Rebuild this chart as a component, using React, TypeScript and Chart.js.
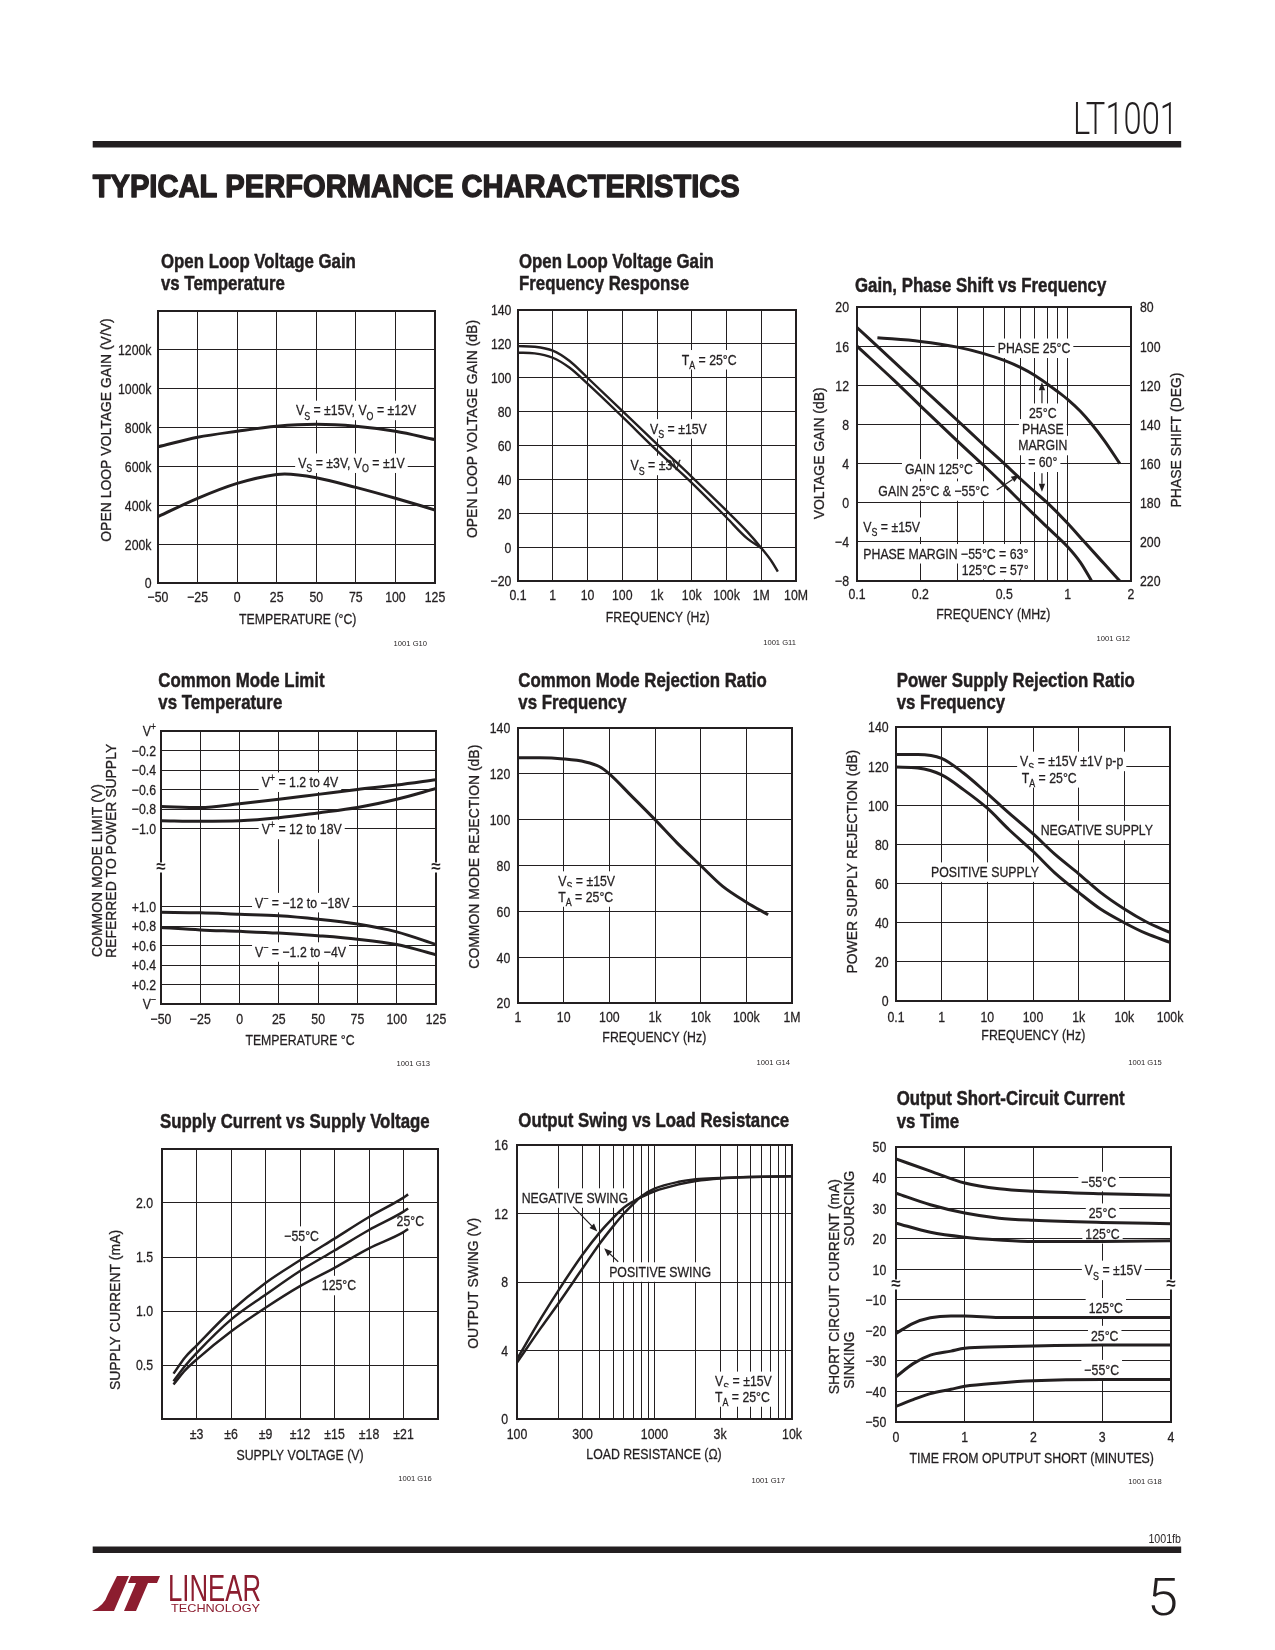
import React, { useEffect, useRef } from 'react';
import { Chart, registerables } from 'chart.js';

Chart.register(...registerables);

const INK = '#231f20';
const LOGO_RED = '#8c1d2f';
const SANS = '"Liberation Sans", Arimo, Arial, sans-serif';
const THIN = 'Roboto, "Open Sans", "Liberation Sans", sans-serif';
const SX = 0.82; // horizontal condensing to mimic a condensed grotesque

/* ---------------- G10: open loop gain vs temperature ---------------- */
const g10TempHi = [-50, -25, 0, 25, 50, 75, 100, 125];
const g10GainHi = [701, 750, 781, 807, 817, 807, 781, 738]; // k V/V, Vs=±15V
const g10TempLo = [-50, -25, 0, 25, 30, 50, 75, 100, 125];
const g10GainLo = [342, 436, 513, 559, 561, 542, 492, 436, 376]; // Vs=±3V
const g10XTicks = [-50, -25, 0, 25, 50, 75, 100, 125];
const g10XLabels = ['−50', '−25', '0', '25', '50', '75', '100', '125'];
const g10YTicks = [0, 200, 400, 600, 800, 1000, 1200, 1400];
const g10YLabels = ['0', '200k', '400k', '600k', '800k', '1000k', '1200k', ''];

/* ---------------- G11: open loop gain vs frequency ---------------- */
const g11FreqHi = [0.1, 0.3, 1, 3, 10, 100, 1e3, 1e4, 1e5, 4e5, 1e6, 2e6, 3e6];
const g11GainHi = [118.7, 118.3, 116, 110, 100, 80.5, 60.8, 41.5, 21.5, 9, -0.5, -8.5, -14.5];
const g11FreqLo = [0.1, 0.3, 1, 3, 10, 100, 1e3, 1e4, 1e5, 4e5, 1e6];
const g11GainLo = [114.8, 114.4, 111.8, 106, 96.5, 77, 57, 38, 17.5, 5, -0.5];
const g11XTicks = [0.1, 1, 10, 100, 1e3, 1e4, 1e5, 1e6, 1e7];
const g11XLabels = ['0.1', '1', '10', '100', '1k', '10k', '100k', '1M', '10M'];
const g11YTicks = [-20, 0, 20, 40, 60, 80, 100, 120, 140];
const g11YLabels = ['−20', '0', '20', '40', '60', '80', '100', '120', '140'];

/* ---------------- G12: gain, phase vs frequency ---------------- */
const g12FreqG25 = [0.1, 0.15, 0.2, 0.3, 0.4, 0.5, 0.6, 0.7, 0.8, 1.0, 1.2, 1.5, 1.77];
const g12Gain25 = [17.9, 14.4, 11.9, 8.4, 5.9, 4.0, 2.4, 1.1, 0.0, -2.1, -4.0, -6.3, -8];
const g12FreqG125 = [0.1, 0.15, 0.2, 0.3, 0.4, 0.5, 0.6, 0.7, 0.8, 1.0, 1.15, 1.3];
const g12Gain125 = [16, 12.5, 9.9, 6.3, 3.8, 1.8, 0.1, -1.3, -2.5, -4.5, -6.1, -8];
const g12FreqPh = [0.125, 0.2, 0.3, 0.4, 0.5, 0.6, 0.7, 0.8, 0.9, 1.0, 1.15, 1.3, 1.5, 1.77];
const g12Phase = [95.7, 97.6, 100.5, 103.8, 107.3, 111.0, 115.0, 119.3, 123.3, 127.2, 133.3, 139.8, 148.5, 160];
const g12XTicks = [0.1, 0.2, 0.3, 0.4, 0.5, 0.6, 0.7, 0.8, 0.9, 1, 2];
const g12XLabels = ['0.1', '0.2', '', '', '0.5', '', '', '', '', '1', '2'];
const g12YTicks = [-8, -4, 0, 4, 8, 12, 16, 20];
const g12YLabels = ['−8', '−4', '0', '4', '8', '12', '16', '20'];
const g12Y2Ticks = [80, 100, 120, 140, 160, 180, 200, 220];
const g12Y2Labels = ['80', '100', '120', '140', '160', '180', '200', '220'];

/* ---------------- G13: common mode limit vs temperature ---------------- */
const g13Temp = [-50, -25, 0, 25, 50, 75, 100, 125];
const g13Vp1 = [-0.775, -0.785, -0.745, -0.70, -0.65, -0.60, -0.555, -0.50]; // V+ = 1.2 to 4V
const g13Vp2 = [-0.92, -0.925, -0.92, -0.89, -0.84, -0.785, -0.70, -0.59]; // V+ = 12 to 18V
const g13Vn1 = [0.94, 0.935, 0.92, 0.905, 0.87, 0.82, 0.74, 0.61]; // V- = -12 to -18V
const g13Vn2 = [0.785, 0.76, 0.745, 0.727, 0.70, 0.665, 0.61, 0.505]; // V- = -1.2 to -4V
const g13YTicks = [0, 1, 2, 3, 4, 5, 6, 7, 8, 9, 10, 11, 12, 13, 14];
const g13YLabels = ['', '+0.2', '+0.4', '+0.6', '+0.8', '+1.0', '', '', '', '−1.0', '−0.8', '−0.6', '−0.4', '−0.2', ''];
const cmUpper = (v: number) => 14 + v / 0.2;
const cmLower = (v: number) => v / 0.2;

/* ---------------- G14: CMRR vs frequency ---------------- */
const g14Freq = [1, 3, 10, 30, 60, 100, 300, 1e3, 3e3, 1e4, 3e4, 1e5, 3e5];
const g14Cmrr = [127, 127, 126.5, 125.2, 123.2, 120, 110.5, 100, 90, 80, 71, 64, 58.5];
const g14XTicks = [1, 10, 100, 1e3, 1e4, 1e5, 1e6];
const g14XLabels = ['1', '10', '100', '1k', '10k', '100k', '1M'];
const g14YTicks = [20, 40, 60, 80, 100, 120, 140];
const g14YLabels = ['20', '40', '60', '80', '100', '120', '140'];

/* ---------------- G15: PSRR vs frequency ---------------- */
const g15Freq = [0.1, 0.3, 1, 3, 10, 30, 100, 300, 1e3, 3e3, 1e4, 3e4, 1e5];
const g15Neg = [126, 126, 124, 116.5, 106, 96, 85.5, 75, 65, 55.5, 47, 40.5, 35];
const g15Pos = [119.5, 119, 115.5, 108, 98.5, 87.5, 76.5, 65.5, 55.5, 47, 40, 34.5, 30];
const g15XTicks = [0.1, 1, 10, 100, 1e3, 1e4, 1e5];
const g15XLabels = ['0.1', '1', '10', '100', '1k', '10k', '100k'];
const g15YTicks = [0, 20, 40, 60, 80, 100, 120, 140];
const g15YLabels = ['0', '20', '40', '60', '80', '100', '120', '140'];

/* ---------------- G16: supply current vs supply voltage ---------------- */
const g16Volt = [1, 2, 3, 6, 9, 12, 15, 18, 21, 21.4];
const g16Im55 = [0.42, 0.57, 0.68, 1.0, 1.26, 1.47, 1.67, 1.87, 2.05, 2.08];
const g16I25 = [0.35, 0.49, 0.61, 0.92, 1.15, 1.37, 1.56, 1.75, 1.92, 1.95];
const g16I125 = [0.32, 0.45, 0.55, 0.81, 1.03, 1.23, 1.40, 1.58, 1.73, 1.76];
const g16XTicks = [0, 3, 6, 9, 12, 15, 18, 21, 24];
const g16XLabels = ['', '±3', '±6', '±9', '±12', '±15', '±18', '±21', ''];
const g16YTicks = [0, 0.5, 1, 1.5, 2, 2.5];
const g16YLabels = ['', '0.5', '1.0', '1.5', '2.0', ''];

/* ---------------- G17: output swing vs load ---------------- */
const g17Load = [100, 150, 200, 300, 400, 500, 600, 700, 800, 1000, 1500, 2000, 3000, 5000, 10000];
const g17Neg = [3.5, 5.9, 7.5, 9.6, 10.9, 11.75, 12.35, 12.7, 12.95, 13.3, 13.7, 13.9, 14.05, 14.13, 14.17];
const g17Pos = [3.3, 5.35, 6.75, 8.8, 10.25, 11.25, 12.0, 12.55, 13.0, 13.45, 13.85, 14.0, 14.07, 14.13, 14.17];
const g17XTicks = [100, 200, 300, 400, 500, 600, 700, 800, 900, 1000, 2000, 3000, 4000, 5000, 6000, 7000, 8000, 9000, 10000];
const g17XLabels = ['100', '', '300', '', '', '', '', '', '', '1000', '', '3k', '', '', '', '', '', '', '10k'];
const g17YTicks = [0, 4, 8, 12, 16];
const g17YLabels = ['0', '4', '8', '12', '16'];

/* ---------------- G18: short-circuit current vs time ---------------- */
const g18TimeSrc = [0, 0.5, 1, 1.5, 2, 3, 4];
const g18Src55 = [46.1, 42.1, 38.2, 36.3, 35.5, 34.7, 34.2];
const g18Src25 = [34.9, 31.1, 28.4, 26.7, 26.0, 25.3, 24.9];
const g18Src125 = [25.1, 22.1, 20.5, 19.6, 19.1, 19.1, 19.3];
const g18TimeSnk = [0, 0.25, 0.5, 0.8, 1, 1.5, 2, 3, 4];
const g18Snk125 = [-21, -17.7, -15.9, -15.3, -15.3, -15.8, -15.8, -15.8, -15.8];
const g18Snk25 = [-35.2, -30.9, -28.1, -26.8, -25.9, -25.4, -25.1, -24.8, -24.8];
const g18Snk55 = [-44.9, -42.7, -40.7, -39.3, -38.3, -37.2, -36.5, -36.1, -36.1];
const g18XTicks = [0, 1, 2, 3, 4];
const g18XLabels = ['0', '1', '2', '3', '4'];
const g18YTicks = [0, 1, 2, 3, 4, 5, 6, 7, 8, 9];
const g18YLabels = ['−50', '−40', '−30', '−20', '−10', '10', '20', '30', '40', '50'];
const scSource = (v: number) => 4 + v / 10;
const scSink = (v: number) => 5 + v / 10;

/* ---------------- types ---------------- */
type AxisSpec = { type: string; min: number; max: number; ticks: number[]; labels: string[]; pad: number; reverse?: boolean; hideGrid?: number[] };
type Series = { xs: number[]; ys: number[]; width: number; axis?: string };
type Note = { text: string; fx: number; fy: number; align?: string };
type Arrow = { fx1: number; fy1: number; fx2: number; fy2: number };
type YTitle = { text: string; x: number; y: number; start?: boolean };
type Spec = {
  box: number[]; plot: number[];
  x: AxisSpec; y: AxisSpec; y2?: AxisSpec;
  series: Series[];
  title: string[]; titleX: number; titleY: number[];
  yTitles: YTitle[]; xTitle: { text: string; x: number; y: number };
  code: { text: string; x: number; y: number };
  notes: Note[]; arrows?: Arrow[]; breakAt?: number;
  extraYLabels?: { text: string; v: number }[];
};

const lin = (min: number, max: number, ticks: number[], labels: string[], pad: number, extra: any = {}): AxisSpec => ({ type: 'linear', min, max, ticks, labels, pad, ...extra });
const lg = (min: number, max: number, ticks: number[], labels: string[], pad: number): AxisSpec => ({ type: 'logarithmic', min, max, ticks, labels, pad });

const specs: Spec[] = [
  {
    box: [80, 235, 385, 420], plot: [158, 311, 435, 583],
    x: lin(-50, 125, g10XTicks, g10XLabels, 13.7), y: lin(0, 1400, g10YTicks, g10YLabels, 6.5),
    series: [{ xs: g10TempHi, ys: g10GainHi, width: 3 }, { xs: g10TempLo, ys: g10GainLo, width: 3 }],
    title: ['Open Loop Voltage Gain', 'vs Temperature'], titleX: 161, titleY: [268.3, 290],
    yTitles: [{ text: 'OPEN LOOP VOLTAGE GAIN (V/V)', x: 105.7, y: 430 }],
    xTitle: { text: 'TEMPERATURE (°C)', x: 297.7, y: 618.3 },
    code: { text: '1001 G10', x: 427, y: 646 },
    notes: [
      { text: 'V_{S} = ±15V, V_{O} = ±12V', fx: 0.498, fy: 0.364 },
      { text: 'V_{S} = ±3V, V_{O} = ±1V', fx: 0.506, fy: 0.558 },
    ],
  },
  {
    box: [455, 235, 360, 420], plot: [518, 310, 796, 581],
    x: lg(0.1, 1e7, g11XTicks, g11XLabels, 13.3), y: lin(-20, 140, g11YTicks, g11YLabels, 6.6),
    series: [{ xs: g11FreqHi, ys: g11GainHi, width: 2.4 }, { xs: g11FreqLo, ys: g11GainLo, width: 2.4 }],
    title: ['Open Loop Voltage Gain', 'Frequency Response'], titleX: 519, titleY: [268.3, 290],
    yTitles: [{ text: 'OPEN LOOP VOLTAGE GAIN (dB)', x: 471.7, y: 429 }],
    xTitle: { text: 'FREQUENCY (Hz)', x: 657.7, y: 616.7 },
    code: { text: '1001 G11', x: 796, y: 644.5 },
    notes: [
      { text: 'T_{A} = 25°C', fx: 0.589, fy: 0.182 },
      { text: 'V_{S} = ±15V', fx: 0.475, fy: 0.437 },
      { text: 'V_{S} = ±3V', fx: 0.405, fy: 0.572 },
    ],
  },
  {
    box: [800, 235, 395, 420], plot: [857, 307, 1131, 581],
    x: lg(0.1, 2, g12XTicks, g12XLabels, 13), y: lin(-8, 20, g12YTicks, g12YLabels, 8),
    y2: lin(80, 220, g12Y2Ticks, g12Y2Labels, 9, { reverse: true }),
    series: [
      { xs: g12FreqG25, ys: g12Gain25, width: 3 },
      { xs: g12FreqG125, ys: g12Gain125, width: 3 },
      { xs: g12FreqPh, ys: g12Phase, width: 3, axis: 'y2' },
    ],
    title: ['Gain, Phase Shift vs Frequency'], titleX: 855, titleY: [291.7],
    yTitles: [{ text: 'VOLTAGE GAIN (dB)', x: 818.3, y: 453.3 }, { text: 'PHASE SHIFT (DEG)', x: 1176, y: 440 }],
    xTitle: { text: 'FREQUENCY (MHz)', x: 993.3, y: 613.3 },
    code: { text: '1001 G12', x: 1130, y: 640.5 },
    notes: [
      { text: 'PHASE 25°C', fx: 0.646, fy: 0.149, align: 'center' },
      { text: '25°C', fx: 0.678, fy: 0.386, align: 'center' },
      { text: 'PHASE', fx: 0.678, fy: 0.443, align: 'center' },
      { text: 'MARGIN', fx: 0.678, fy: 0.504, align: 'center' },
      { text: '= 60°', fx: 0.678, fy: 0.565, align: 'center' },
      { text: 'GAIN 125°C', fx: 0.175, fy: 0.589 },
      { text: 'GAIN 25°C & −55°C', fx: 0.078, fy: 0.670 },
      { text: 'V_{S} = ±15V', fx: 0.023, fy: 0.802 },
      { text: 'PHASE MARGIN −55°C = 63°', fx: 0.023, fy: 0.899 },
      { text: '125°C = 57°', fx: 0.382, fy: 0.957 },
    ],
    arrows: [
      { fx1: 0.675, fy1: 0.351, fx2: 0.675, fy2: 0.275 },
      { fx1: 0.675, fy1: 0.607, fx2: 0.675, fy2: 0.674 },
      { fx1: 0.51, fy1: 0.668, fx2: 0.592, fy2: 0.613 },
    ],
  },
  {
    box: [80, 655, 385, 420], plot: [161, 731, 436, 1004],
    x: lin(-50, 125, g10XTicks, g10XLabels, 14.3), y: lin(0, 14, g13YTicks, g13YLabels, 5, { hideGrid: [6, 7, 8] }),
    series: [
      { xs: g13Temp, ys: g13Vp1.map(cmUpper), width: 3 },
      { xs: g13Temp, ys: g13Vp2.map(cmUpper), width: 3 },
      { xs: g13Temp, ys: g13Vn1.map(cmLower), width: 3 },
      { xs: g13Temp, ys: g13Vn2.map(cmLower), width: 3 },
    ],
    title: ['Common Mode Limit', 'vs Temperature'], titleX: 158.3, titleY: [686.7, 709.3],
    yTitles: [
      { text: 'COMMON MODE LIMIT (V)', x: 96.7, y: 957, start: true },
      { text: 'REFERRED TO POWER SUPPLY', x: 111, y: 958, start: true },
    ],
    xTitle: { text: 'TEMPERATURE °C', x: 300, y: 1040 },
    code: { text: '1001 G13', x: 430, y: 1066 },
    notes: [
      { text: 'V^{+} = 1.2 to 4V', fx: 0.366, fy: 0.186 },
      { text: 'V^{+} = 12 to 18V', fx: 0.366, fy: 0.359 },
      { text: 'V^{−} = −12 to −18V', fx: 0.342, fy: 0.627 },
      { text: 'V^{−} = −1.2 to −4V', fx: 0.342, fy: 0.808 },
    ],
    breakAt: 7,
    extraYLabels: [{ text: 'V^{−}', v: 0 }, { text: 'V^{+}', v: 14 }],
  },
  {
    box: [455, 655, 360, 420], plot: [518, 728, 792, 1003],
    x: lg(1, 1e6, g14XTicks, g14XLabels, 13.7), y: lin(20, 140, g14YTicks, g14YLabels, 7.7),
    series: [{ xs: g14Freq, ys: g14Cmrr, width: 3 }],
    title: ['Common Mode Rejection Ratio', 'vs Frequency'], titleX: 518.3, titleY: [686.7, 709.3],
    yTitles: [{ text: 'COMMON MODE REJECTION (dB)', x: 473.3, y: 856.7 }],
    xTitle: { text: 'FREQUENCY (Hz)', x: 654.3, y: 1036.7 },
    code: { text: '1001 G14', x: 790, y: 1064.5 },
    notes: [
      { text: 'V_{S} = ±15V', fx: 0.147, fy: 0.555 },
      { text: 'T_{A} = 25°C', fx: 0.147, fy: 0.613 },
    ],
  },
  {
    box: [800, 655, 395, 420], plot: [896, 727, 1170, 1001],
    x: lg(0.1, 1e5, g15XTicks, g15XLabels, 15.7), y: lin(0, 140, g15YTicks, g15YLabels, 7.4),
    series: [{ xs: g15Freq, ys: g15Neg, width: 3 }, { xs: g15Freq, ys: g15Pos, width: 3 }],
    title: ['Power Supply Rejection Ratio', 'vs Frequency'], titleX: 896.7, titleY: [686.7, 709.3],
    yTitles: [{ text: 'POWER SUPPLY REJECTION (dB)', x: 851.7, y: 861.7 }],
    xTitle: { text: 'FREQUENCY (Hz)', x: 1033.3, y: 1035 },
    code: { text: '1001 G15', x: 1161.7, y: 1065 },
    notes: [
      { text: 'V_{S} = ±15V ±1V p-p', fx: 0.453, fy: 0.124 },
      { text: 'T_{A} = 25°C', fx: 0.459, fy: 0.184 },
      { text: 'NEGATIVE SUPPLY', fx: 0.528, fy: 0.376 },
      { text: 'POSITIVE SUPPLY', fx: 0.128, fy: 0.528 },
    ],
  },
  {
    box: [80, 1075, 385, 420], plot: [162, 1149, 438, 1419],
    x: lin(0, 24, g16XTicks, g16XLabels, 14.3), y: lin(0, 2.5, g16YTicks, g16YLabels, 9),
    series: [
      { xs: g16Volt, ys: g16Im55, width: 2.5 },
      { xs: g16Volt, ys: g16I25, width: 2.5 },
      { xs: g16Volt, ys: g16I125, width: 2.5 },
    ],
    title: ['Supply Current vs Supply Voltage'], titleX: 160, titleY: [1128.3],
    yTitles: [{ text: 'SUPPLY CURRENT (mA)', x: 115, y: 1310 }],
    xTitle: { text: 'SUPPLY VOLTAGE (V)', x: 300, y: 1455 },
    code: { text: '1001 G16', x: 431.7, y: 1481 },
    notes: [
      { text: '−55°C', fx: 0.443, fy: 0.321 },
      { text: '25°C', fx: 0.850, fy: 0.266 },
      { text: '125°C', fx: 0.579, fy: 0.504 },
    ],
  },
  {
    box: [455, 1075, 360, 420], plot: [517, 1145, 792, 1419],
    x: lg(100, 10000, g17XTicks, g17XLabels, 14.3), y: lin(0, 16, g17YTicks, g17YLabels, 9),
    series: [{ xs: g17Load, ys: g17Neg, width: 2.5 }, { xs: g17Load, ys: g17Pos, width: 2.5 }],
    title: ['Output Swing vs Load Resistance'], titleX: 518.3, titleY: [1127.3],
    yTitles: [{ text: 'OUTPUT SWING (V)', x: 472.3, y: 1283.3 }],
    xTitle: { text: 'LOAD RESISTANCE (Ω)', x: 654, y: 1453.3 },
    code: { text: '1001 G17', x: 785, y: 1483 },
    notes: [
      { text: 'NEGATIVE SWING', fx: 0.017, fy: 0.192 },
      { text: 'POSITIVE SWING', fx: 0.335, fy: 0.462 },
      { text: 'V_{S} = ±15V', fx: 0.72, fy: 0.861 },
      { text: 'T_{A} = 25°C', fx: 0.72, fy: 0.918 },
    ],
    arrows: [
      { fx1: 0.204, fy1: 0.225, fx2: 0.292, fy2: 0.316 },
      { fx1: 0.368, fy1: 0.426, fx2: 0.317, fy2: 0.377 },
    ],
  },
  {
    box: [800, 1075, 395, 420], plot: [896, 1147, 1171, 1422],
    x: lin(0, 4, g18XTicks, g18XLabels, 14.7), y: lin(0, 9, g18YTicks, g18YLabels, 9.7),
    series: [
      { xs: g18TimeSrc, ys: g18Src55.map(scSource), width: 3 },
      { xs: g18TimeSrc, ys: g18Src25.map(scSource), width: 3 },
      { xs: g18TimeSrc, ys: g18Src125.map(scSource), width: 3 },
      { xs: g18TimeSnk, ys: g18Snk125.map(scSink), width: 3 },
      { xs: g18TimeSnk, ys: g18Snk25.map(scSink), width: 3 },
      { xs: g18TimeSnk, ys: g18Snk55.map(scSink), width: 3 },
    ],
    title: ['Output Short-Circuit Current', 'vs Time'], titleX: 896.7, titleY: [1105, 1127.7],
    yTitles: [
      { text: 'SHORT CIRCUIT CURRENT (mA)', x: 833.3, y: 1286.7 },
      { text: 'SOURCING', x: 849, y: 1208.3 },
      { text: 'SINKING', x: 849, y: 1360 },
    ],
    xTitle: { text: 'TIME FROM OPUTPUT SHORT (MINUTES)', x: 1031.7, y: 1457.3 },
    code: { text: '1001 G18', x: 1161.7, y: 1484 },
    notes: [
      { text: '−55°C', fx: 0.737, fy: 0.124, align: 'center' },
      { text: '25°C', fx: 0.751, fy: 0.239, align: 'center' },
      { text: '125°C', fx: 0.751, fy: 0.314, align: 'center' },
      { text: 'V_{S} = ±15V', fx: 0.79, fy: 0.447, align: 'center' },
      { text: '125°C', fx: 0.763, fy: 0.583, align: 'center' },
      { text: '25°C', fx: 0.759, fy: 0.684, align: 'center' },
      { text: '−55°C', fx: 0.748, fy: 0.808, align: 'center' },
    ],
    breakAt: 4.5,
  },
];

/* ---------------- text helpers ---------------- */
const fontOf = (size: number, bold = false) => `${bold ? 'bold ' : ''}${size}px ${SANS}`;

type TOpts = { align?: CanvasTextAlign; bold?: boolean; sx?: number; rot?: number; dy?: number; stroke?: number };
function txt(ctx: CanvasRenderingContext2D, text: string, x: number, y: number, size: number, o: TOpts = {}) {
  ctx.save();
  ctx.translate(x, y);
  if (o.rot) ctx.rotate(o.rot);
  ctx.scale(o.sx !== undefined ? o.sx : SX, 1);
  ctx.font = fontOf(size, o.bold);
  ctx.textAlign = o.align || 'left';
  ctx.textBaseline = 'alphabetic';
  ctx.fillText(text, 0, o.dy || 0);
  const st = o.stroke !== undefined ? o.stroke : 0.3;
  if (st > 0) {
    ctx.lineWidth = st;
    ctx.strokeStyle = ctx.fillStyle as string;
    ctx.lineJoin = 'round';
    ctx.strokeText(text, 0, o.dy || 0);
  }
  ctx.restore();
}
function tw(ctx: CanvasRenderingContext2D, text: string, size: number, bold = false, sx = SX) {
  ctx.save();
  ctx.font = fontOf(size, bold);
  const w = ctx.measureText(text).width * sx;
  ctx.restore();
  return w;
}

function parseRich(s: string) {
  const segs: { t: string; k: number }[] = [];
  let cur = '';
  let i = 0;
  while (i < s.length) {
    if ((s[i] === '_' || s[i] === '^') && s[i + 1] === '{') {
      if (cur) segs.push({ t: cur, k: 0 });
      cur = '';
      const end = s.indexOf('}', i);
      segs.push({ t: s.slice(i + 2, end), k: s[i] === '_' ? 1 : 2 });
      i = end + 1;
    } else {
      cur += s[i];
      i++;
    }
  }
  if (cur) segs.push({ t: cur, k: 0 });
  return segs;
}

function drawRich(ctx: CanvasRenderingContext2D, s: string, x: number, y: number, size: number, align: string, bg: boolean) {
  const segs = parseRich(s);
  const small = size * 0.72;
  const ws = segs.map((g) => tw(ctx, g.t, g.k ? small : size));
  const w = ws.reduce((a, b) => a + b, 0);
  let x0 = align === 'center' ? x - w / 2 : align === 'right' ? x - w : x;
  const base = y + size * 0.36;
  if (bg) {
    ctx.fillStyle = '#ffffff';
    ctx.fillRect(x0 - 3, y - size * 0.62, w + 6, size * 1.3);
  }
  ctx.fillStyle = INK;
  segs.forEach((g, i) => {
    const dy = g.k === 1 ? size * 0.28 : g.k === 2 ? -size * 0.4 : 0;
    txt(ctx, g.t, x0, base + dy, g.k ? small : size);
    x0 += ws[i];
  });
}

function drawArrow(ctx: CanvasRenderingContext2D, x1: number, y1: number, x2: number, y2: number) {
  const a = Math.atan2(y2 - y1, x2 - x1);
  const hl = 8;
  const hw = 3.2;
  const bx = x2 - hl * Math.cos(a);
  const by = y2 - hl * Math.sin(a);
  ctx.strokeStyle = INK;
  ctx.fillStyle = INK;
  ctx.lineWidth = 1.2;
  ctx.beginPath();
  ctx.moveTo(x1, y1);
  ctx.lineTo(bx, by);
  ctx.stroke();
  ctx.beginPath();
  ctx.moveTo(x2, y2);
  ctx.lineTo(bx - hw * Math.sin(a), by + hw * Math.cos(a));
  ctx.lineTo(bx + hw * Math.sin(a), by - hw * Math.cos(a));
  ctx.closePath();
  ctx.fill();
}

function fitText(ctx: CanvasRenderingContext2D, text: string, font: string, x: number, y: number, width: number, align: CanvasTextAlign, stroke = 0) {
  ctx.save();
  ctx.font = font;
  const w = ctx.measureText(text).width;
  ctx.translate(x, y);
  ctx.scale(width / w, 1);
  ctx.textAlign = align;
  ctx.textBaseline = 'alphabetic';
  ctx.fillText(text, 0, 0);
  if (stroke) {
    ctx.lineWidth = stroke;
    ctx.strokeStyle = ctx.fillStyle as string;
    ctx.lineJoin = 'round';
    ctx.strokeText(text, 0, 0);
  }
  ctx.restore();
}

/* ---------------- chart builder ---------------- */
function buildChart(canvas: HTMLCanvasElement, s: Spec) {
  const [bx, by, bw, bh] = s.box;
  const [pl, pt, pr, pb] = s.plot;
  const TS = 15;

  const axis = (a: AxisSpec, pos: string, fit: (sc: any) => void) => ({
    type: a.type,
    position: pos,
    min: a.min,
    max: a.max,
    reverse: !!a.reverse,
    afterBuildTicks: (sc: any) => {
      sc.ticks = a.ticks.map((v) => ({ value: v }));
    },
    afterFit: fit,
    grid: {
      display: pos !== 'right',
      color: (c: any) => (a.hideGrid && c.tick && a.hideGrid.indexOf(c.tick.value) >= 0 ? 'rgba(0,0,0,0)' : INK),
      lineWidth: 1,
      drawTicks: false,
      tickLength: 0,
    },
    border: { display: false },
    ticks: { display: false, autoSkip: false, maxRotation: 0, minRotation: 0 },
  });

  const scales: any = {
    x: axis(s.x, 'bottom', (sc) => { sc.height = by + bh - pb; }),
    y: axis(s.y, 'left', (sc) => { sc.width = pl - bx; }),
  };
  if (s.y2) scales.y2 = axis(s.y2, 'right', (sc) => { sc.width = bx + bw - pr; });

  const frac = (ca: any, fx: number, fy: number) => [ca.left + fx * (ca.right - ca.left), ca.top + fy * (ca.bottom - ca.top)];

  const deco = {
    id: 'deco',
    beforeDatasetsDraw(chart: any) {
      const ctx: CanvasRenderingContext2D = chart.ctx;
      const ca = chart.chartArea;
      ctx.save();
      for (const n of s.notes) {
        const [x, y] = frac(ca, n.fx, n.fy);
        drawRich(ctx, n.text, x, y, 15, n.align || 'left', true);
      }
      ctx.strokeStyle = INK;
      ctx.lineWidth = 2;
      ctx.strokeRect(ca.left, ca.top, ca.right - ca.left, ca.bottom - ca.top);
      if (s.breakAt !== undefined) {
        const yb = chart.scales.y.getPixelForValue(s.breakAt);
        for (const xb of [ca.left, ca.right]) {
          ctx.fillStyle = '#ffffff';
          ctx.fillRect(xb - 4, yb - 5, 8, 10);
          ctx.fillStyle = INK;
          ctx.font = `bold 17px ${SANS}`;
          ctx.textAlign = 'center';
          ctx.textBaseline = 'middle';
          ctx.fillText('≈', xb, yb);
        }
      }
      ctx.restore();
    },
    afterDatasetsDraw(chart: any) {
      const ctx: CanvasRenderingContext2D = chart.ctx;
      const ca = chart.chartArea;
      ctx.save();
      for (const a of s.arrows || []) {
        const [x1, y1] = frac(ca, a.fx1, a.fy1);
        const [x2, y2] = frac(ca, a.fx2, a.fy2);
        drawArrow(ctx, x1, y1, x2, y2);
      }
      ctx.restore();
    },
    afterDraw(chart: any) {
      const ctx: CanvasRenderingContext2D = chart.ctx;
      const ca = chart.chartArea;
      ctx.save();
      ctx.fillStyle = INK;

      // tick labels, placed by the chart's own scales
      const xs = chart.scales.x;
      s.x.ticks.forEach((v, i) => {
        const lab = s.x.labels[i];
        if (lab) txt(ctx, lab, xs.getPixelForValue(v), ca.bottom + s.x.pad + TS * 0.36, TS, { align: 'center' });
      });
      const ys = chart.scales.y;
      s.y.ticks.forEach((v, i) => {
        const lab = s.y.labels[i];
        if (lab) txt(ctx, lab, ca.left - s.y.pad, ys.getPixelForValue(v) + TS * 0.36, TS, { align: 'right' });
      });
      if (s.y2) {
        const y2 = chart.scales.y2;
        s.y2.ticks.forEach((v, i) => {
          const lab = s.y2!.labels[i];
          if (lab) txt(ctx, lab, ca.right + s.y2!.pad, y2.getPixelForValue(v) + TS * 0.36, TS, { align: 'left' });
        });
      }
      for (const e of s.extraYLabels || []) {
        drawRich(ctx, e.text, ca.left - s.y.pad, ys.getPixelForValue(e.v), TS, 'right', false);
      }

      // chart title
      s.title.forEach((t, i) => txt(ctx, t, s.titleX - bx, s.titleY[i] - by, 20.5, { bold: true, stroke: 0.5 }));

      // axis titles
      for (const t of s.yTitles) {
        txt(ctx, t.text, t.x - bx, t.y - by, 15, { rot: -Math.PI / 2, align: t.start ? 'left' : 'center', dy: 15 * 0.36, sx: 0.93 });
      }
      txt(ctx, s.xTitle.text, s.xTitle.x - bx, s.xTitle.y - by + 15 * 0.36, 15, { align: 'center' });

      // figure code
      txt(ctx, s.code.text, s.code.x - bx, s.code.y - by, 8, { align: 'right', sx: 0.95, stroke: 0 });
      ctx.restore();
    },
  };

  const datasets = s.series.map((se) => ({
    data: se.xs.map((x, i) => ({ x, y: se.ys[i] })),
    borderColor: INK,
    backgroundColor: INK,
    borderWidth: se.width,
    pointRadius: 0,
    cubicInterpolationMode: 'monotone',
    fill: false,
    yAxisID: se.axis || 'y',
  }));

  return new Chart(canvas, {
    type: 'line',
    data: { datasets } as any,
    options: {
      animation: false,
      responsive: false,
      maintainAspectRatio: false,
      events: [],
      layout: { padding: { left: 0, top: pt - by, right: s.y2 ? 0 : bx + bw - pr, bottom: 0 } },
      plugins: { legend: { display: false }, tooltip: { enabled: false }, title: { display: false } },
      scales,
    } as any,
    plugins: [deco],
  });
}

function ChartBox({ spec }: { spec: Spec }) {
  const ref = useRef<HTMLCanvasElement>(null);
  useEffect(() => {
    const c = buildChart(ref.current as HTMLCanvasElement, spec);
    return () => c.destroy();
  }, [spec]);
  const [x, y, w, h] = spec.box;
  return <canvas ref={ref} width={w} height={h} style={{ position: 'absolute', left: x, top: y, width: w, height: h }} />;
}

function PageCanvas() {
  const ref = useRef<HTMLCanvasElement>(null);
  useEffect(() => {
    const ctx = (ref.current as HTMLCanvasElement).getContext('2d') as CanvasRenderingContext2D;
    ctx.fillStyle = '#ffffff';
    ctx.fillRect(0, 0, 1275, 1650);
    ctx.fillStyle = INK;
    fitText(ctx, 'LT1001', `300 44px ${THIN}`, 1178, 133.5, 105, 'right');
    ctx.fillRect(92.7, 141, 1088.5, 6.5);
    fitText(ctx, 'TYPICAL PERFORMANCE CHARACTERISTICS', `bold 32px ${SANS}`, 92.7, 196.7, 647, 'left', 1.4);
    ctx.fillRect(92.7, 1546.5, 1088.5, 6.5);
    txt(ctx, '1001fb', 1181, 1543, 13, { align: 'right', stroke: 0 });
    fitText(ctx, '5', `300 52px ${THIN}`, 1178, 1615, 31, 'right');

    // logo
    ctx.fillStyle = LOGO_RED;
    ctx.beginPath();
    ctx.moveTo(117, 1576);
    ctx.lineTo(129, 1576);
    ctx.lineTo(114, 1611);
    ctx.lineTo(92, 1611);
    ctx.quadraticCurveTo(104, 1606, 108, 1594);
    ctx.closePath();
    ctx.fill();
    ctx.beginPath();
    ctx.moveTo(131, 1576);
    ctx.lineTo(160, 1576);
    ctx.lineTo(157, 1583);
    ctx.lineTo(148, 1583);
    ctx.lineTo(136, 1611);
    ctx.lineTo(124, 1611);
    ctx.lineTo(136, 1583);
    ctx.lineTo(128, 1583);
    ctx.closePath();
    ctx.fill();
    fitText(ctx, 'LINEAR', `36px ${SANS}`, 168, 1601, 93, 'left');
    fitText(ctx, 'TECHNOLOGY', `11px ${SANS}`, 171, 1611.5, 89, 'left');
  }, []);
  return <canvas ref={ref} width={1275} height={1650} style={{ position: 'absolute', left: 0, top: 0, width: 1275, height: 1650 }} />;
}

export default function App() {
  return (
    <div style={{ position: 'absolute', left: 0, top: 0, width: 1275, height: 1650, overflow: 'hidden', background: '#ffffff' }}>
      <PageCanvas />
      {specs.map((s, i) => (
        <ChartBox key={i} spec={s} />
      ))}
    </div>
  );
}
